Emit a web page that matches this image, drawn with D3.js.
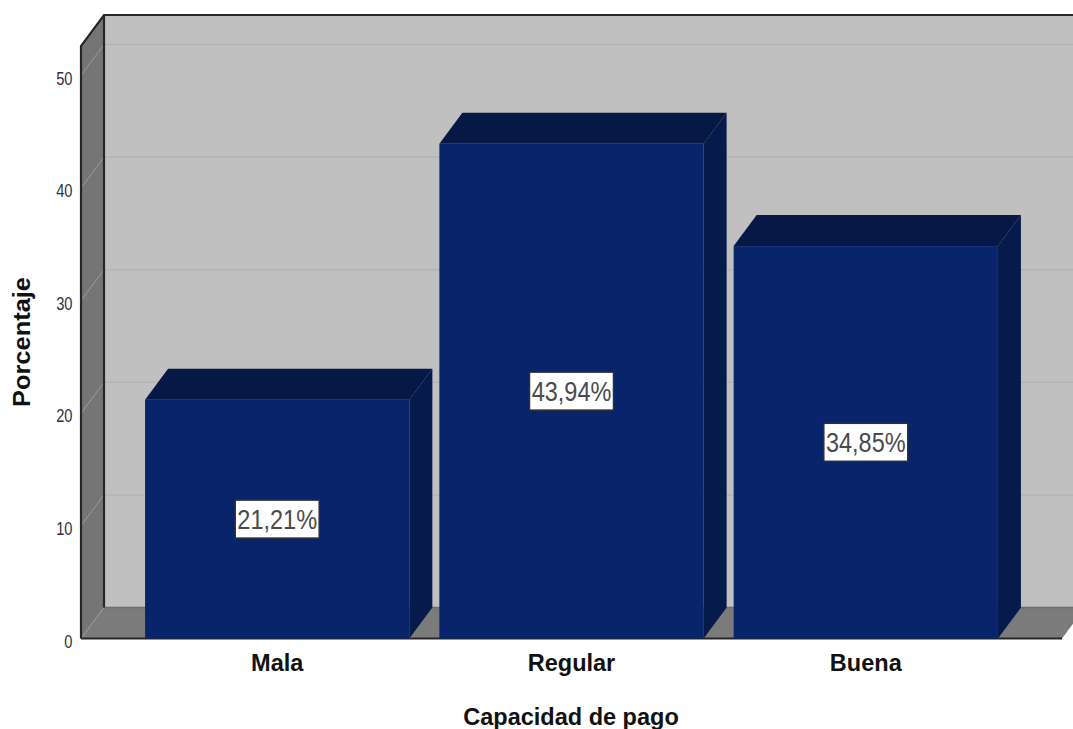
<!DOCTYPE html>
<html>
<head>
<meta charset="utf-8">
<script src="https://cdn.jsdelivr.net/npm/d3@7"></script>
<style>
  html, body { margin: 0; padding: 0; background: #fff; }
  svg { display: block; }
  text { font-family: "Liberation Sans", Arial, sans-serif; }
</style>
</head>
<body>
<svg id="chart" width="1073" height="729"></svg>
<script>
// Categories and percentages for payment capacity
const categories = ["Mala", "Regular", "Buena"];
const percentages = [21.21, 43.94, 34.85];
const percentLabels = ["21,21%", "43,94%", "34,85%"];
const yTicks = [0, 10, 20, 30, 40, 50];
const yAxisTitle = "Porcentaje";
const xAxisTitle = "Capacidad de pago";

const width = 1073, height = 729;
const depthX = 23, depthY = -31;          // oblique offset of the 3D box
const frontLeft = 81, frontRight = 1062;
const yBase = 638.5, yMaxPx = 75.5;       // pixel rows for values 0 and 50
const wallTopPx = 46;                     // front edge of the box's top

const svg = d3.select("#chart");

const x = d3.scaleBand()
  .domain(categories)
  .range([frontLeft, frontRight])
  .paddingInner(0.102)
  .paddingOuter(0.2177);

const y = d3.scaleLinear().domain([0, 50]).range([yBase, yMaxPx]);

const poly = pts => pts.map(p => p.join(",")).join(" ");

// Back wall, clipped by the page edge on the right
svg.append("rect")
  .attr("x", frontLeft + depthX).attr("y", wallTopPx + depthY)
  .attr("width", width - frontLeft - depthX)
  .attr("height", yBase - wallTopPx)
  .attr("fill", "#c0c0c0");

// Floor
svg.append("polygon")
  .attr("points", poly([
    [frontLeft, yBase], [frontRight, yBase],
    [frontRight + depthX, yBase + depthY], [frontLeft + depthX, yBase + depthY]
  ]))
  .attr("fill", "#7b7b7b");

// Left wall
svg.append("polygon")
  .attr("points", poly([
    [frontLeft, wallTopPx], [frontLeft + depthX, wallTopPx + depthY],
    [frontLeft + depthX, yBase + depthY], [frontLeft, yBase]
  ]))
  .attr("fill", "#757575");

// Gridlines along the back wall and down the left wall
const grid = svg.append("g");
yTicks.forEach(t => {
  grid.append("line")
    .attr("x1", frontLeft + depthX).attr("x2", width)
    .attr("y1", y(t) + depthY).attr("y2", y(t) + depthY)
    .attr("stroke", t === 0 ? "#6e6e6e" : "#b4b4b4")
    .attr("stroke-width", 1.5);
  grid.append("line")
    .attr("x1", frontLeft).attr("x2", frontLeft + depthX)
    .attr("y1", y(t)).attr("y2", y(t) + depthY)
    .attr("stroke", "#9a9a9a")
    .attr("stroke-width", 1);
});

// Box outline
const outline = svg.append("g")
  .attr("fill", "none").attr("stroke", "#262626").attr("stroke-width", 2.2);
outline.append("polyline").attr("points", poly([
  [frontLeft, yBase], [frontLeft, wallTopPx],
  [frontLeft + depthX, wallTopPx + depthY], [width, wallTopPx + depthY]
]));
outline.append("line")
  .attr("x1", frontLeft + depthX).attr("x2", frontLeft + depthX)
  .attr("y1", wallTopPx + depthY).attr("y2", yBase + depthY);
outline.append("line")
  .attr("x1", frontLeft).attr("x2", frontRight)
  .attr("y1", yBase).attr("y2", yBase);

// Bars: front, top and side faces
const bars = svg.append("g").selectAll("g")
  .data(categories.map((c, i) => ({ c, v: percentages[i], label: percentLabels[i] })))
  .join("g");

bars.append("polygon")
  .attr("points", d => {
    const r = x(d.c) + x.bandwidth();
    return poly([[r, yBase], [r, y(d.v)], [r + depthX, y(d.v) + depthY], [r + depthX, yBase + depthY]]);
  })
  .attr("fill", "#061a4b");

bars.append("polygon")
  .attr("points", d => {
    const l = x(d.c), r = l + x.bandwidth();
    return poly([[l, y(d.v)], [r, y(d.v)], [r + depthX, y(d.v) + depthY], [l + depthX, y(d.v) + depthY]]);
  })
  .attr("fill", "#061845");

bars.append("rect")
  .attr("x", d => x(d.c))
  .attr("y", d => y(d.v))
  .attr("width", x.bandwidth())
  .attr("height", d => yBase - y(d.v))
  .attr("fill", "#08256c");

// Value labels in white boxes at mid-height of each bar
const labelW = 84, labelH = 38;
bars.append("rect")
  .attr("x", d => x(d.c) + x.bandwidth() / 2 - labelW / 2)
  .attr("y", d => y(d.v / 2) - labelH / 2)
  .attr("width", labelW).attr("height", labelH)
  .attr("fill", "#fff").attr("stroke", "#2b2f3a").attr("stroke-width", 1.5);

bars.append("text")
  .attr("transform", d => `translate(${x(d.c) + x.bandwidth() / 2},${y(d.v / 2) + 10}) scale(0.84,1)`)
  .attr("text-anchor", "middle")
  .attr("font-size", 28)
  .attr("fill", "#4a4a4a")
  .text(d => d.label);

// Axes; the glyphs are drawn tall and narrow, hence the horizontal scaling
const yAxis = d3.axisLeft(y).tickValues(yTicks).tickSize(0).tickFormat(d3.format("d"));
const yG = svg.append("g").attr("transform", `translate(${frontLeft},0)`).call(yAxis);
yG.select(".domain").remove();
yG.selectAll("text")
  .attr("x", 0).attr("dy", 0)
  .attr("transform", "translate(-8.5,8.5) scale(0.84,1)")
  .attr("font-size", 17.5).attr("fill", "#333")
  .style("font-family", '"Liberation Sans", Arial, sans-serif');

const xAxis = d3.axisBottom(x).tickSize(0);
const xG = svg.append("g").attr("transform", `translate(0,${yBase})`).call(xAxis);
xG.select(".domain").remove();
xG.selectAll("text")
  .attr("y", 0).attr("dy", 0)
  .attr("transform", "translate(0,32.5) scale(0.98,1)")
  .attr("font-size", 24).attr("font-weight", "bold").attr("fill", "#111")
  .style("font-family", '"Liberation Sans", Arial, sans-serif');

// Axis titles
svg.append("text")
  .attr("transform", "translate(30,342) rotate(-90) scale(1.06,1)")
  .attr("text-anchor", "middle")
  .attr("font-size", 24).attr("font-weight", "bold").attr("fill", "#111")
  .text(yAxisTitle);

svg.append("text")
  .attr("transform", "translate(571,725) scale(0.98,1)")
  .attr("text-anchor", "middle")
  .attr("font-size", 24).attr("font-weight", "bold").attr("fill", "#111")
  .text(xAxisTitle);
</script>
</body>
</html>
